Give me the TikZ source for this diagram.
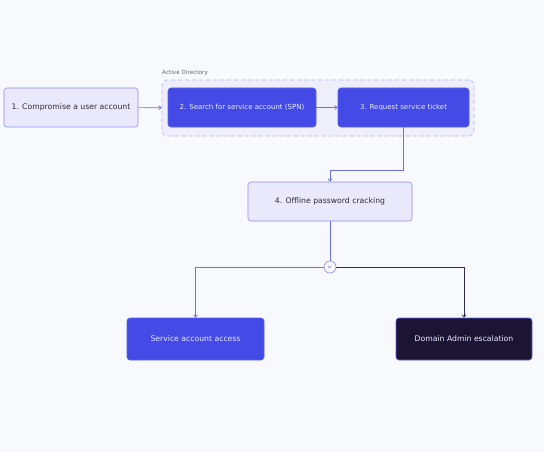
\documentclass[tikz,border=0pt]{standalone}
\usepackage{fontspec}
\setmainfont{DejaVu Sans}
\usetikzlibrary{arrows.meta}
\definecolor{bg}{HTML}{F8F9FC}
\definecolor{lav}{HTML}{E9E9FB}
\definecolor{lavb}{HTML}{8B8DF2}
\definecolor{indi}{HTML}{434AE6}
\definecolor{indib}{HTML}{5A60EE}
\definecolor{darkn}{HTML}{1C1433}
\definecolor{txtd}{HTML}{2A2A3A}
\definecolor{txtl}{HTML}{ECECFF}
\definecolor{grpf}{HTML}{EFEFFB}
\definecolor{grpb}{HTML}{B4B6F4}
\definecolor{edge}{HTML}{6B6FEA}
\definecolor{edged}{HTML}{2E2C52}
\tikzset{
  box/.style={rounded corners=3pt, line width=0.6pt, minimum height=39pt, inner sep=0pt, font=\fontsize{7.7}{9}\selectfont, align=center},
  lightbox/.style={box, fill=lav, draw=lavb, text=txtd},
  bluebox/.style={box, fill=indi, draw=indib, text=txtl},
  darkbox/.style={box, fill=darkn, draw=indib, text=txtl},
  smalltext/.style={font=\fontsize{7.0}{8}\selectfont},
  arr/.style={draw=edge, line width=0.7pt, -{Straight Barb[length=2.5pt,width=4pt]}},
  arrd/.style={draw=edged, line width=0.7pt, -{Straight Barb[length=2.5pt,width=4pt]}},
  grp/.style={rounded corners=5pt, fill=grpf, draw=grpb, dashed, dash pattern=on 4pt off 3pt, line width=0.6pt, inner sep=0pt},
}
\begin{document}
\begin{tikzpicture}[x=1pt,y=-1pt]
\path[fill=bg] (0,0) rectangle (544,452);
\useasboundingbox (0,0) rectangle (544,452);
\node[grp, minimum width=312pt, minimum height=56pt] (ad) at (318,108) {};
\node[anchor=south west, inner sep=0pt, text=gray!80!black, font=\fontsize{5.7}{6}\selectfont] (adl) at (162,76) {Active Directory};
\node[lightbox, minimum width=134pt] (n1) at (71,107.5) {1. Compromise a user account};
\node[bluebox, smalltext, minimum width=148pt] (n2) at (242,107.5) {2. Search for service account (SPN)};
\node[bluebox, smalltext, minimum width=131pt] (n3) at (403.5,107.5) {3. Request service ticket};
\node[lightbox, minimum width=164pt] (n4) at (330,201.5) {4. Offline password cracking};
\node[circle, draw=lavb, fill=bg, line width=0.6pt, minimum size=12pt, inner sep=0pt, text=edge, font=\fontsize{4}{4}\selectfont] (or) at (330,267) {or};
\node[bluebox, minimum width=137pt, minimum height=42pt] (n5) at (195.5,339) {Service account access};
\node[darkbox, minimum width=136pt, minimum height=42pt] (n6) at (464,339) {Domain Admin escalation};
\draw[arr] (n1) -- (ad);
\draw[arr] (n2) -- (n3);
\draw[arr] (n3.south) -- (n3.south |- 0,170) -| (n4.north);
\draw[draw=edge, line width=0.7pt] (n4) -- (or);
\draw[arr] (or.west) -| (n5.north);
\draw[arrd] (or.east) -| (n6.north);
\end{tikzpicture}
\end{document}
